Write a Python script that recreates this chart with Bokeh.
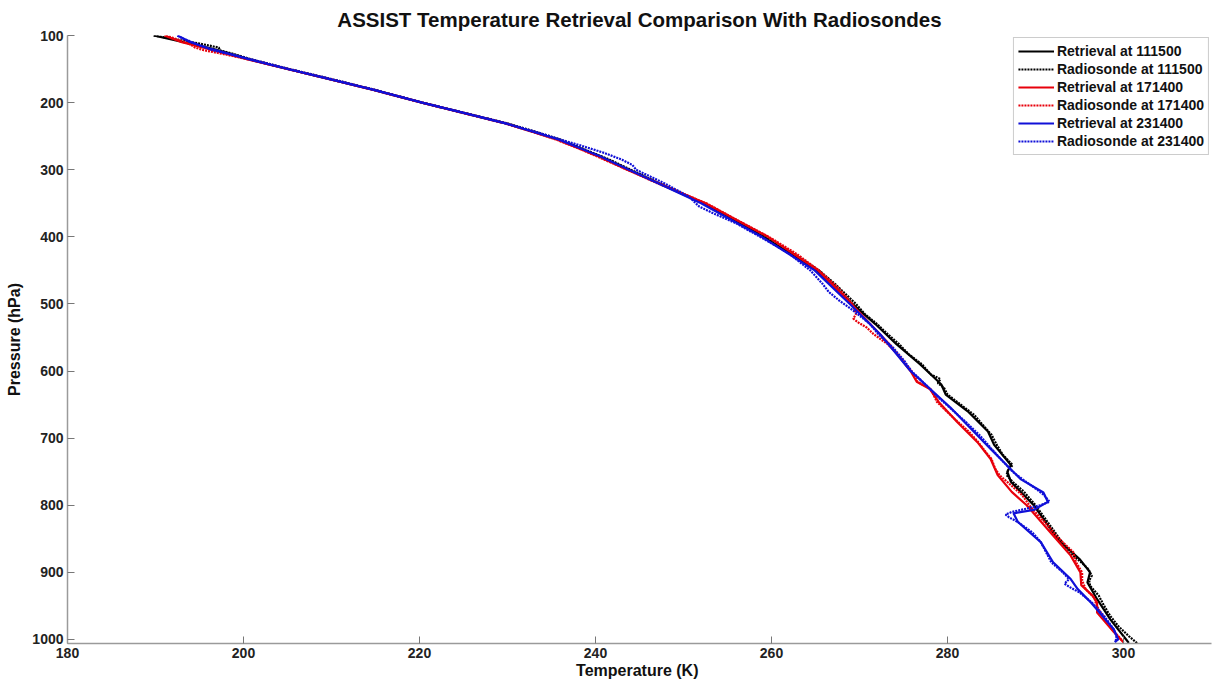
from bokeh.plotting import figure
from bokeh.models import Range1d, Legend, LegendItem, FixedTicker
from bokeh.embed import file_html
from bokeh.resources import INLINE

# ---- data (temperature K vs pressure hPa) ----
ret_111500_p = [100, 110, 120, 136, 150, 181, 200, 231, 255, 280, 300, 350, 400, 450, 500, 530, 560, 590, 610, 620, 635, 660, 690, 710, 740, 750, 765, 800, 850, 880, 900, 915, 940, 970, 1000, 1005]
ret_111500_t = [189.8, 193.2, 196.5, 200.8, 205.0, 214.8, 220.3, 229.8, 235.8, 240.5, 243.8, 252.2, 259.1, 265.2, 269.2, 271.8, 274.2, 276.9, 278.5, 279.3, 279.8, 282.3, 284.6, 285.3, 287.2, 286.8, 287.2, 289.8, 292.5, 295.0, 296.2, 295.9, 297.0, 298.5, 300.3, 300.6]

sonde_111500_p = [100, 105, 112, 118, 122, 128, 136, 150, 165, 181, 200, 215, 231, 245, 255, 270, 285, 300, 320, 350, 375, 400, 425, 450, 470, 485, 500, 515, 530, 545, 560, 575, 590, 605, 612, 618, 625, 635, 650, 665, 680, 695, 710, 725, 740, 748, 755, 765, 780, 800, 820, 840, 855, 870, 885, 895, 905, 912, 920, 935, 950, 965, 980, 995, 1006]
sonde_111500_t = [189.8, 192.0, 195.0, 197.2, 197.3, 199.0, 201.0, 205.2, 210.0, 214.9, 220.3, 225.0, 230.0, 233.6, 236.0, 238.8, 241.6, 244.0, 247.2, 252.3, 255.9, 259.3, 262.5, 265.4, 267.2, 268.4, 269.6, 270.6, 272.0, 273.2, 274.5, 275.6, 277.1, 278.1, 279.2, 278.9, 279.6, 280.0, 281.5, 283.0, 284.0, 285.0, 285.6, 286.3, 287.4, 286.9, 286.7, 287.4, 288.7, 290.0, 291.1, 292.2, 293.0, 293.8, 295.2, 296.0, 296.4, 296.1, 296.2, 297.2, 297.8, 298.5, 299.4, 300.6, 301.6]

ret_171400_p = [100, 110, 120, 136, 150, 181, 200, 231, 255, 280, 300, 350, 400, 450, 500, 527, 560, 600, 616, 627, 646, 676, 706, 731, 755, 780, 800, 845, 875, 900, 919, 935, 945, 960, 989, 1004]
ret_171400_t = [191.0, 193.0, 196.0, 200.6, 205.0, 214.8, 220.3, 229.8, 235.6, 240.3, 243.6, 252.5, 259.6, 265.3, 269.1, 271.0, 273.4, 275.8, 276.5, 278.0, 279.0, 281.1, 283.4, 284.9, 285.7, 287.3, 289.0, 292.0, 294.0, 295.1, 295.2, 296.5, 297.0, 297.0, 298.9, 300.0]

sonde_171400_p = [100, 106, 112, 118, 122, 127, 136, 150, 165, 181, 200, 215, 231, 245, 255, 270, 285, 300, 320, 350, 375, 400, 425, 450, 475, 500, 515, 522, 528, 535, 545, 560, 580, 600, 616, 627, 646, 660, 676, 690, 706, 720, 731, 745, 755, 770, 785, 800, 815, 830, 845, 860, 870, 885, 900, 912, 925, 938, 948, 958, 970, 985, 998, 1004]
sonde_171400_t = [191.2, 192.5, 193.8, 194.5, 195.5, 197.5, 200.7, 205.0, 209.8, 214.7, 220.2, 224.8, 229.7, 233.2, 235.5, 238.4, 241.0, 243.6, 247.0, 252.6, 256.1, 259.7, 262.8, 265.4, 267.5, 269.2, 269.6, 269.3, 269.9, 270.8, 271.6, 273.2, 274.7, 275.9, 276.6, 278.1, 278.8, 279.9, 281.2, 282.4, 283.5, 284.3, 285.0, 285.4, 285.9, 287.2, 288.5, 289.3, 290.3, 291.4, 292.3, 293.5, 294.3, 294.6, 295.3, 295.3, 295.7, 296.7, 296.9, 297.3, 297.9, 298.7, 299.6, 300.0]

ret_231400_p = [100, 110, 120, 136, 150, 181, 200, 231, 255, 280, 300, 350, 400, 450, 500, 546, 600, 654, 716, 736, 761, 781, 795, 807, 812, 825, 855, 885, 910, 925, 945, 985, 1000, 1004]
ret_231400_t = [192.5, 194.0, 196.3, 200.8, 205.0, 214.8, 220.3, 229.8, 235.8, 240.5, 243.8, 252.0, 258.9, 264.9, 268.9, 272.4, 275.8, 280.3, 284.9, 286.4, 288.3, 290.9, 291.4, 289.8, 287.5, 288.0, 290.6, 292.0, 294.0, 294.8, 296.3, 298.9, 299.4, 299.0]

sonde_231400_p = [100, 104, 108, 115, 122, 128, 136, 150, 165, 181, 200, 215, 231, 245, 255, 265, 275, 285, 293, 300, 320, 340, 355, 365, 380, 400, 425, 450, 470, 482, 495, 510, 530, 546, 565, 585, 600, 620, 640, 654, 675, 695, 716, 736, 750, 761, 775, 785, 795, 800, 805, 810, 814, 818, 825, 840, 855, 870, 885, 900, 910, 917, 922, 930, 945, 965, 985, 995, 1004]
sonde_231400_t = [192.5, 193.0, 193.8, 195.0, 196.5, 198.5, 201.0, 205.2, 210.0, 214.9, 220.3, 225.0, 229.8, 233.6, 236.0, 238.6, 241.0, 243.0, 244.2, 244.6, 247.8, 250.6, 251.8, 253.4, 256.0, 258.7, 262.0, 264.4, 265.8, 266.5, 267.7, 269.3, 271.2, 272.2, 273.8, 275.1, 275.9, 277.5, 279.0, 280.2, 282.0, 283.6, 285.0, 286.4, 287.4, 288.5, 290.0, 291.0, 291.6, 290.5, 289.0, 287.3, 286.6, 287.0, 288.0, 289.6, 290.6, 291.2, 291.8, 293.1, 293.8, 293.3, 293.9, 295.0, 296.4, 297.8, 298.9, 299.2, 299.1]

x_ticks = [180, 200, 220, 240, 260, 280, 300]
y_ticks = [100, 200, 300, 400, 500, 600, 700, 800, 900, 1000]

FONT = "Liberation Sans"

p = figure(width=1214, height=684, output_backend="svg", toolbar_location=None,
           x_range=Range1d(180, 310), y_range=Range1d(1006, 100),
           min_border_left=67, min_border_right=3, min_border_top=34, min_border_bottom=41)
p.outline_line_color = None
p.xgrid.visible = False
p.ygrid.visible = False

p.title.text = "ASSIST Temperature Retrieval Comparison With Radiosondes"
p.title.text_font = FONT
p.title.text_font_size = "20.5px"
p.title.text_font_style = "bold"
p.title.align = "center"
p.title.text_color = "#111111"
p.title.standoff = 10

for ax in (p.xaxis[0], p.yaxis[0]):
    ax.axis_line_color = "#9a9a9a"
    ax.axis_line_width = 1.5
    ax.major_tick_line_color = "#777777"
    ax.major_tick_in = 7
    ax.major_tick_out = 0
    ax.minor_tick_line_color = None
    ax.major_label_text_font = FONT
    ax.major_label_text_font_size = "14px"
    ax.major_label_text_font_style = "bold"
    ax.major_label_text_color = "#222222"
    ax.axis_label_text_font = FONT
    ax.axis_label_text_font_size = "16px"
    ax.axis_label_text_font_style = "bold"
    ax.axis_label_text_color = "#111111"

p.xaxis[0].ticker = FixedTicker(ticks=x_ticks)
p.yaxis[0].ticker = FixedTicker(ticks=y_ticks)
p.xaxis[0].axis_label = "Temperature  (K)"
p.yaxis[0].axis_label = "Pressure (hPa)"
p.xaxis[0].major_label_standoff = 4
p.xaxis[0].axis_label_standoff = 1
p.yaxis[0].major_label_standoff = 4
p.yaxis[0].axis_label_standoff = 6

series = [
    ("Retrieval at 111500", ret_111500_t, ret_111500_p, "#000000", "solid"),
    ("Radiosonde at 111500", sonde_111500_t, sonde_111500_p, "#000000", "2 1"),
    ("Retrieval at 171400", ret_171400_t, ret_171400_p, "#e8000b", "solid"),
    ("Radiosonde at 171400", sonde_171400_t, sonde_171400_p, "#e8000b", "2 1"),
    ("Retrieval at 231400", ret_231400_t, ret_231400_p, "#1010d8", "solid"),
    ("Radiosonde at 231400", sonde_231400_t, sonde_231400_p, "#1010d8", "2 1"),
]

items = []
for label, t, pr, col, dash in series:
    r = p.line(t, pr, line_color=col, line_width=2.2, line_dash=dash)
    items.append(LegendItem(label=label, renderers=[r]))

legend = Legend(items=items, location="top_right")
legend.label_text_font = FONT
legend.label_text_font_size = "14px"
legend.label_text_font_style = "bold"
legend.label_text_color = "#111111"
legend.border_line_color = "#9a9a9a"
legend.border_line_width = 1.5
legend.background_fill_color = "white"
legend.background_fill_alpha = 1.0
legend.margin = 2
legend.padding = 4
legend.spacing = 0
legend.label_height = 18
legend.glyph_height = 18
legend.glyph_width = 36
legend.label_standoff = 3
p.add_layout(legend)

open("out.html", "w").write(file_html(p, INLINE))
